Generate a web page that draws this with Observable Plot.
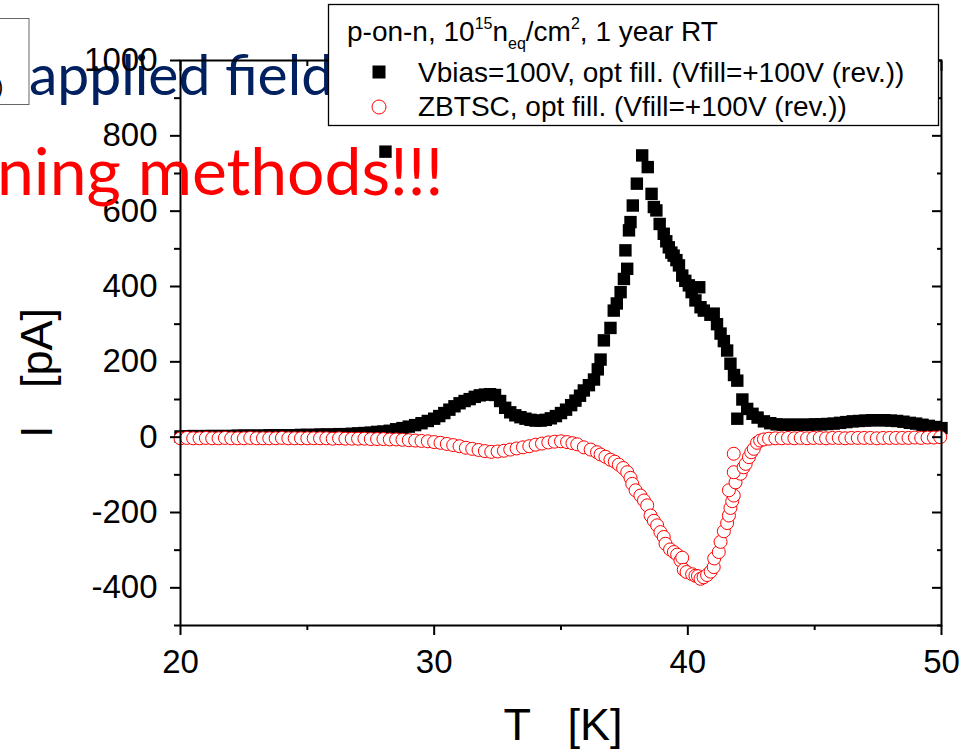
<!DOCTYPE html>
<html><head><meta charset="utf-8">
<script src="https://cdn.jsdelivr.net/npm/d3@7"></script>
<script src="https://cdn.jsdelivr.net/npm/@observablehq/plot@0.6"></script>
<style>
html,body{margin:0;padding:0;background:#fff;}
#wrap{position:relative;width:965px;height:749px;overflow:hidden;}
#under,#over{position:absolute;left:0;top:0;}
#under{z-index:0}
#chart{position:absolute;left:0;top:0;z-index:1}
#over{z-index:2}
svg text{white-space:pre;}
</style></head><body>
<div id="wrap">
<svg id="under" width="965" height="749">
  <text x="29" y="95" font-family="Lato" font-size="57" fill="#002060">applied field</text>
</svg>
<div id="chart"></div>
<svg id="over" width="965" height="749" font-family="Liberation Sans, Arial, sans-serif">
  <rect x="-2" y="18.5" width="31" height="86" fill="none" stroke="#666" stroke-width="1"/>
  <text x="-3" y="95" font-family="Lato" font-size="22" fill="#000">)</text>
  <rect x="328.5" y="4.5" width="610" height="121" fill="#fff" stroke="#000" stroke-width="1.3"/>
  <text x="347" y="41" font-size="28" fill="#000">p-on-n, 10<tspan dy="-12" font-size="16">15</tspan><tspan dy="12">n</tspan><tspan dy="8" font-size="16">eq</tspan><tspan dy="-8">/cm</tspan><tspan dy="-12" font-size="16">2</tspan><tspan dy="12">, 1 year RT</tspan></text>
  <rect x="372.5" y="65.5" width="13" height="13" fill="#000"/>
  <text x="418" y="82" font-size="28" fill="#000">Vbias=100V, opt fill. (Vfill=+100V (rev.))</text>
  <circle cx="379" cy="107" r="7" fill="#fff" stroke="#f00" stroke-width="1"/>
  <text x="418" y="116" font-size="28" fill="#000">ZBTSC, opt fill. (Vfill=+100V (rev.))</text>
  <text x="-3" y="195" font-family="Lato" font-size="66" fill="#ff0000">ning methods!!!</text>
  <text x="563" y="740" font-size="45" text-anchor="middle" fill="#000">T   [K]</text>
  <text transform="translate(52,373) rotate(-90)" font-size="45" text-anchor="middle" fill="#000">I   [pA]</text>
</svg>
</div>
<script>
// Vbias=100V series (black squares): temperature [K] and current [pA]
const vbiasT = [20.00,20.25,20.50,20.75,21.00,21.25,21.50,21.75,22.00,22.25,22.50,22.75,23.00,23.25,23.50,23.75,24.00,24.25,24.50,24.75,25.00,25.25,25.50,25.75,26.00,26.25,26.50,26.75,27.00,27.25,27.50,27.75,28.00,28.08,28.25,28.50,28.75,29.00,29.25,29.50,29.75,30.00,30.20,30.40,30.60,30.80,31.00,31.20,31.40,31.60,31.80,32.00,32.20,32.40,32.60,32.80,33.00,33.20,33.40,33.60,33.80,34.00,34.20,34.40,34.60,34.80,35.00,35.20,35.40,35.57,35.75,35.90,36.10,36.30,36.45,36.56,36.69,36.95,37.08,37.20,37.35,37.48,37.61,37.54,37.68,37.74,37.83,37.99,38.20,38.42,38.57,38.66,38.76,38.89,39.05,39.15,39.25,39.35,39.44,39.55,39.65,39.78,39.90,40.04,40.15,40.30,40.45,40.50,40.63,40.89,41.02,41.15,41.29,41.42,41.55,41.68,41.82,41.95,41.95,42.15,42.34,42.55,42.75,43.00,43.25,43.50,43.75,44.00,44.25,44.50,44.75,45.00,45.25,45.50,45.75,46.00,46.25,46.50,46.75,47.00,47.25,47.50,47.75,48.00,48.25,48.50,48.75,49.00,49.25,49.50,49.75,50.00];
const vbiasI = [2,2,3,2,3,3,3,3,3,4,4,4,4,4,5,5,5,5,5,6,6,6,7,7,7,8,8,9,10,11,12,14,15,758,17,21,24,28,32,37,43,49,56,64,73,82,90,96,101,107,111,113,114,112,96,78,66,58,53,49,46,44,44,46,50,56,64,73,85,97,110,124,138,153,180,206,257,290,336,355,385,420,447,496,549,571,615,673,748,717,646,611,602,566,540,520,504,490,482,470,456,429,415,403,385,363,398,345,336,325,328,300,275,255,230,195,165,150,49,100,75,62,52,42,37,34,33,33,33,33,33,34,34,35,36,38,40,42,43,44,45,45,45,44,43,41,38,36,33,30,27,24];
// ZBTSC series (red open circles)
const zbtscT = [20.00,20.25,20.50,20.75,21.00,21.25,21.50,21.75,22.00,22.25,22.50,22.75,23.00,23.25,23.50,23.75,24.00,24.25,24.50,24.75,25.00,25.25,25.50,25.75,26.00,26.25,26.50,26.75,27.00,27.25,27.50,27.75,28.00,28.25,28.50,28.75,29.00,29.25,29.50,29.75,30.00,30.25,30.50,30.75,31.00,31.25,31.50,31.75,32.00,32.25,32.50,32.75,33.00,33.25,33.50,33.75,34.00,34.25,34.50,34.75,35.00,35.24,35.45,35.64,35.90,36.17,36.42,36.56,36.75,36.95,37.12,37.28,37.45,37.61,37.74,37.81,37.94,38.13,38.27,38.40,38.53,38.66,38.79,38.92,39.05,39.12,39.30,39.45,39.58,39.71,39.78,39.84,39.95,40.17,40.30,40.40,40.50,40.62,40.76,40.90,41.02,41.04,41.22,41.29,41.42,41.55,41.62,41.68,41.75,41.81,41.62,41.88,42.08,41.81,42.20,42.28,41.81,42.41,42.50,42.60,42.73,42.85,43.00,43.20,43.45,43.70,43.95,44.20,44.45,44.70,44.95,45.20,45.45,45.70,45.95,46.20,46.45,46.70,46.95,47.20,47.45,47.70,47.95,48.20,48.45,48.70,48.95,49.20,49.45,49.70,49.95];
const zbtscI = [-3,-2,-3,-3,-2,-3,-3,-2,-3,-3,-3,-2,-3,-3,-3,-3,-2,-3,-3,-3,-3,-3,-3,-3,-4,-3,-4,-4,-4,-4,-5,-5,-5,-6,-6,-7,-8,-9,-10,-11,-13,-15,-18,-21,-24,-28,-31,-34,-37,-39,-38,-36,-33,-30,-27,-24,-20,-17,-14,-12,-11,-13,-16,-19,-27,-33,-40,-46,-52,-60,-65,-73,-82,-93,-108,-124,-141,-155,-168,-181,-208,-222,-234,-252,-265,-283,-298,-305,-312,-327,-320,-352,-358,-364,-368,-369,-376,-372,-366,-357,-345,-322,-305,-278,-250,-228,-208,-188,-170,-155,-141,-120,-97,-93,-80,-71,-44,-53,-40,-31,-15,-9,-6,-4,-3,-3,-2,-3,-2,-3,-2,-2,-3,-2,-2,-3,-2,-2,-2,-2,-3,-2,-2,-2,-2,-2,-1,-2,-1,-1,0];
// axis ticks
const xMajor = [20, 30, 40, 50];
const xMinor = [25, 35, 45];
const yMajor = [-400, -200, 0, 200, 400, 600, 800, 1000];
const yMinor = [-500, -300, -100, 100, 300, 500, 700, 900];

const vbias = vbiasT.map((T, i) => ({T, I: vbiasI[i]}));
const zbtsc = zbtscT.map((T, i) => ({T, I: zbtscI[i]}));
const fmt = d => String(d);
const blank = () => "";

const chart = Plot.plot({
  width: 965, height: 749,
  marginLeft: 180, marginRight: 24, marginTop: 60, marginBottom: 124,
  x: {domain: [20, 50], label: null},
  y: {domain: [-500, 1000], label: null},
  style: {background: "transparent", fontFamily: "Liberation Sans, Arial, sans-serif", fontSize: "33px", color: "black", overflow: "visible"},
  marks: [
    Plot.dot(vbias, {x: "T", y: "I", symbol: "square", r: 7, fill: "black", stroke: null}),
    Plot.dot(zbtsc, {x: "T", y: "I", r: 6.5, fill: "white", stroke: "red", strokeWidth: 1}),
    Plot.frame({stroke: "black", strokeWidth: 2}),
    Plot.axisX({ticks: xMajor, tickSize: 10, tickPadding: 14, tickFormat: fmt, label: null, strokeWidth: 2}),
    Plot.axisX({ticks: xMinor, tickSize: 5, tickFormat: blank, label: null, strokeWidth: 2}),
    Plot.axisX({anchor: "top", ticks: xMajor, tickSize: 10, dy: 10, tickFormat: blank, label: null, strokeWidth: 2}),
    Plot.axisX({anchor: "top", ticks: xMinor, tickSize: 5, dy: 5, tickFormat: blank, label: null, strokeWidth: 2}),
    Plot.axisY({ticks: yMajor, tickSize: 10, tickPadding: 13, tickFormat: fmt, label: null, strokeWidth: 2}),
    Plot.axisY({ticks: yMinor, tickSize: 6, tickFormat: blank, label: null, strokeWidth: 2}),
    Plot.axisY({anchor: "right", ticks: yMajor, tickSize: 10, dx: -10, tickFormat: blank, label: null, strokeWidth: 2}),
    Plot.axisY({anchor: "right", ticks: yMinor, tickSize: 5, dx: -5, tickFormat: blank, label: null, strokeWidth: 2})
  ]
});
document.getElementById("chart").appendChild(chart);
</script>
</body></html>
